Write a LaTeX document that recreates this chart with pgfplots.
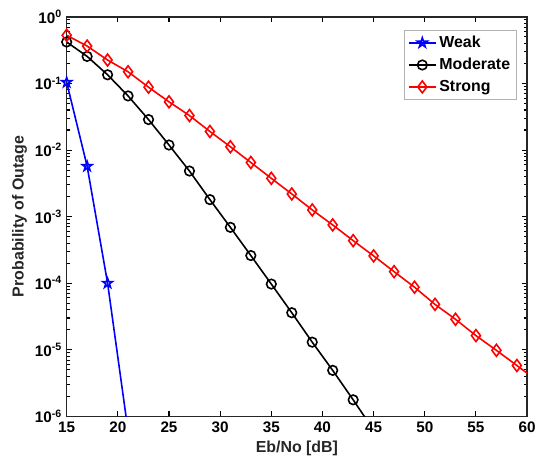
\documentclass[border=0pt]{standalone}
\usepackage{fontspec}
\setmainfont{Liberation Sans}
\usepackage{pgfplots}
\pgfplotsset{compat=1.18}
\usetikzlibrary{plotmarks}
\definecolor{mblue}{RGB}{0,0,255}
\definecolor{mred}{RGB}{255,0,0}
\pgfdeclareplotmark{pentagram}{%
  \pgfpathmoveto{\pgfpointpolar{90}{\pgfplotmarksize}}%
  \pgfpathlineto{\pgfpointpolar{126}{0.382\pgfplotmarksize}}%
  \pgfpathlineto{\pgfpointpolar{162}{\pgfplotmarksize}}%
  \pgfpathlineto{\pgfpointpolar{198}{0.382\pgfplotmarksize}}%
  \pgfpathlineto{\pgfpointpolar{234}{\pgfplotmarksize}}%
  \pgfpathlineto{\pgfpointpolar{270}{0.382\pgfplotmarksize}}%
  \pgfpathlineto{\pgfpointpolar{306}{\pgfplotmarksize}}%
  \pgfpathlineto{\pgfpointpolar{342}{0.382\pgfplotmarksize}}%
  \pgfpathlineto{\pgfpointpolar{18}{\pgfplotmarksize}}%
  \pgfpathlineto{\pgfpointpolar{54}{0.382\pgfplotmarksize}}%
  \pgfpathclose\pgfusepathqstroke}
\begin{document}
\begin{tikzpicture}
\begin{semilogyaxis}[
  name=ax,
  scale only axis,
  width=347pt, height=301pt,
  xmin=15, xmax=60, ymin=1e-6, ymax=1,
  xtick={15,20,25,30,35,40,45,50,55,60},
  ytick={1e-6,1e-5,1e-4,1e-3,1e-2,1e-1,1},
  yticklabels={10\textsuperscript{-6},10\textsuperscript{-5},10\textsuperscript{-4},10\textsuperscript{-3},10\textsuperscript{-2},10\textsuperscript{-1},10\textsuperscript{0}},
  /pgf/number format/assume math mode=true,
  tick label style={font=\fontsize{11.5}{13}\selectfont\bfseries, black},
  xticklabel style={yshift=-1pt},
  xlabel={Eb/No [dB]},
  ylabel={Probability of Outage},
  label style={font=\fontsize{12}{14}\selectfont\bfseries, color=black!85},
  xlabel style={yshift=1pt},
  ylabel style={yshift=-1pt},
  axis line style={line width=1.1pt, black!85},
  tick style={line width=0.8pt, black},
  major tick length=4pt,
  minor tick length=2.2pt,
  legend style={at={(rel axis cs:0.977,0.968)}, anchor=north east,
    draw=gray!60, line width=0.6pt, font=\fontsize{12}{15}\selectfont\bfseries,
    inner sep=2.5pt, row sep=2.5pt},
  legend cell align=left,
  legend image code/.code={\draw[mark repeat=2,mark phase=2] plot coordinates {(0cm,0cm) (0.36cm,0cm) (0.72cm,0cm)};},
  every axis plot/.append style={line width=1.2pt},
]
\addplot[mblue, mark=pentagram, mark size=3.8pt, mark options={solid}]
  coordinates {(15,0.104) (17,5.7e-3) (19,1.0e-4) (21,6e-7) (23,3e-9)};
\addlegendentry{Weak}
\addplot[black, mark=o, mark size=3.6pt, mark options={solid}]
  coordinates {(15,0.42) (17,0.255) (19,0.135) (21,0.065) (23,0.0287) (25,0.0119) (27,4.84e-3)
   (29,1.8e-3) (31,6.9e-4) (33,2.6e-4) (35,9.7e-5) (37,3.6e-5) (39,1.3e-5) (41,4.9e-6) (43,1.77e-6) (45,6.2e-7)};
\addlegendentry{Moderate}
\addplot[mred, mark=diamond, mark size=4.5pt, mark options={solid}]
  coordinates {(15,0.53) (17,0.365) (19,0.225) (21,0.150) (23,0.088) (25,0.053) (27,0.033)
   (29,0.019) (31,0.0112) (33,6.5e-3) (35,3.76e-3) (37,2.19e-3) (39,1.26e-3) (41,7.5e-4) (43,4.36e-4)
   (45,2.57e-4) (47,1.49e-4) (49,8.7e-5) (51,4.8e-5) (53,2.87e-5) (55,1.63e-5) (57,9.8e-6) (59,5.8e-6) (61,3.4e-6)};
\addlegendentry{Strong}
\end{semilogyaxis}
\path ([shift={(-50.25pt,-39pt)}]ax.south west) rectangle ([shift={(7.5pt,12.75pt)}]ax.north east);
\end{tikzpicture}
\end{document}
